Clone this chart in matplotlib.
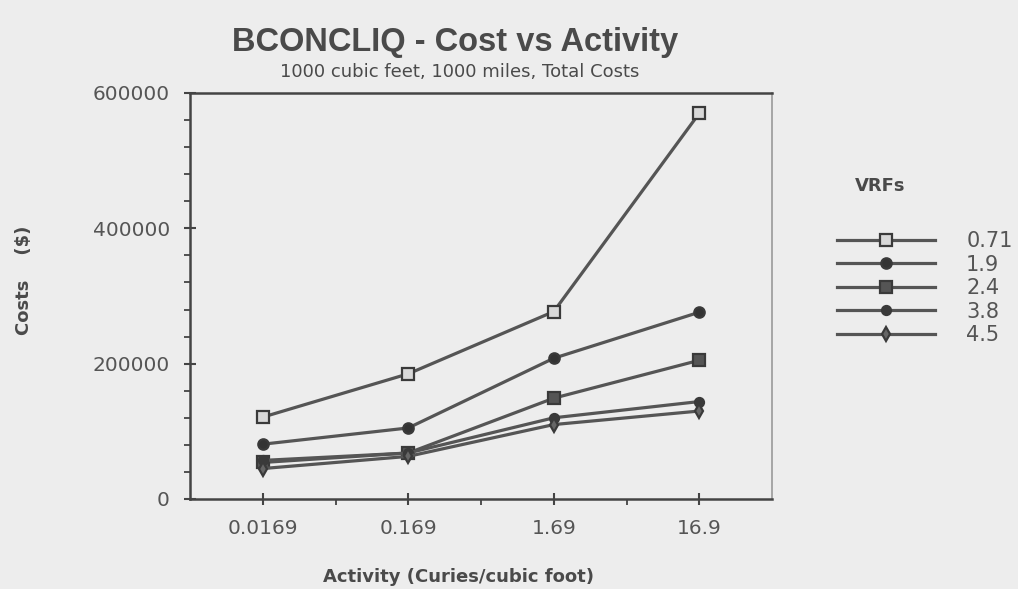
import numpy as np
import matplotlib.pyplot as plt
from matplotlib.ticker import MultipleLocator, FixedLocator

# activity levels (Curies/cubic foot), plotted as evenly spaced categories
activity = ["0.0169", "0.169", "1.69", "16.9"]

# total cost ($) for each VRF
vrf_labels = ["0.71", "1.9", "2.4", "3.8", "4.5"]
cost_071 = [121000, 185000, 277000, 570000]
cost_19 = [81000, 105000, 208000, 276000]
cost_24 = [54000, 68000, 149000, 205000]
cost_38 = [57000, 68000, 120000, 144000]
cost_45 = [45000, 63000, 110000, 130000]

bg = "#ededed"
ink = "#4a4a4a"
line_col = "#555555"

plt.rcParams['font.family'] = ['Liberation Sans', 'DejaVu Sans']

fig = plt.figure(figsize = (10.18, 5.89), dpi = 100, facecolor = bg)
ax = fig.add_axes([190/1018, 1 - 499/589, 582/1018, 406/589], facecolor = bg)

x = np.arange(len(activity))
series = [cost_071, cost_19, cost_24, cost_38, cost_45]
markers = ['s', 'o', 's', 'o', 'd']
msizes = [8.5, 7.5, 8.5, 6.5, 7.5]
faces = ['#d8d8d8', '#333333', '#555555', '#3a3a3a', '#666666']

handles = []
for vals, lab, mk, ms, fc in zip(series, vrf_labels, markers, msizes, faces):
    h, = ax.plot(x, vals, color = line_col, lw = 2.3, marker = mk, markersize = ms,
                 markerfacecolor = fc, markeredgecolor = '#3a3a3a', markeredgewidth = 1.6,
                 label = lab)
    handles.append(h)

ax.set_xlim(-0.5, 3.5)
ax.set_ylim(0, 600000)
ax.set_xticks(x)
ax.set_xticklabels(activity)
ax.xaxis.set_minor_locator(FixedLocator([0.5, 1.5, 2.5]))
ax.yaxis.set_major_locator(MultipleLocator(200000))
ax.yaxis.set_minor_locator(MultipleLocator(40000))

ax.tick_params(axis = 'both', which = 'major', direction = 'inout', length = 9, width = 1.5,
               color = '#444444', labelsize = 14.5, labelcolor = '#555555', pad = 10)
ax.tick_params(axis = 'both', which = 'minor', direction = 'out', length = 4, width = 1.3,
               color = '#444444')
for lbl in ax.get_xticklabels() + ax.get_yticklabels():
    lbl.set_family('DejaVu Sans')

for side in ['left', 'bottom', 'top']:
    ax.spines[side].set_color('#444444')
    ax.spines[side].set_linewidth(1.8)
ax.spines['right'].set_color('#9a9a9a')
ax.spines['right'].set_linewidth(1.2)

fig.text(0.447, 0.928, "BCONCLIQ - Cost vs Activity", ha = 'center', va = 'center',
         fontsize = 23.5, fontweight = 'bold', color = ink)
fig.text(0.452, 0.877, "1000 cubic feet, 1000 miles, Total Costs", ha = 'center', va = 'center',
         fontsize = 13, color = ink, family = 'DejaVu Sans')
fig.text(0.450, 0.020, "Activity (Curies/cubic foot)", ha = 'center', va = 'center',
         fontsize = 13, fontweight = 'bold', color = ink, family = 'DejaVu Sans')
fig.text(0.024, 1 - 280/589, "Costs    ($)", ha = 'center', va = 'center', rotation = 90,
         fontsize = 13, fontweight = 'bold', color = ink, family = 'DejaVu Sans')

fig.text(880/1018, 1 - 186/589, "VRFs", ha = 'center', va = 'center',
         fontsize = 13, fontweight = 'bold', color = ink, family = 'DejaVu Sans')
leg = ax.legend(handles = handles, loc = 'upper left', bbox_to_anchor = (837/1018, 1 - 231/589),
                bbox_transform = fig.transFigure, frameon = False, fontsize = 15,
                handlelength = 4.7, handletextpad = 1.5, labelspacing = 0.17,
                borderpad = 0, borderaxespad = 0)
for t in leg.get_texts():
    t.set_color('#555555')
    t.set_family('DejaVu Sans')

fig.savefig("out.png", dpi = 100, facecolor = bg)
